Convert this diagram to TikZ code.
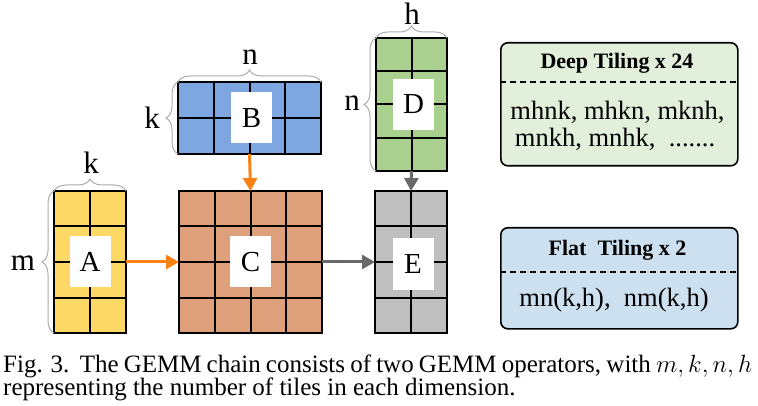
\documentclass[tikz,border=0pt]{standalone}
\usepackage{fontspec}
\setmainfont{Liberation Serif}
\usetikzlibrary{calc,arrows.meta,decorations.pathreplacing}
\definecolor{Ayel}{RGB}{255,217,102}
\definecolor{Bblue}{RGB}{126,166,224}
\definecolor{Cor}{RGB}{221,160,122}
\definecolor{Dgreen}{RGB}{169,208,142}
\definecolor{Egray}{RGB}{191,191,191}
\definecolor{deepfill}{RGB}{226,239,218}
\definecolor{flatfill}{RGB}{204,224,240}
\definecolor{arrowor}{RGB}{250,130,20}
\definecolor{arrowgr}{RGB}{105,105,105}
\tikzset{
  mat/.style={draw=black, line width=2.2pt, inner sep=0pt, outer sep=0pt, anchor=north west},
  gridl/.style={draw=black, line width=2pt},
  lbl/.style={fill=white, minimum width=41pt, minimum height=51pt, inner sep=0pt,
    font=\fontsize{29}{31}\selectfont},
  dimlbl/.style={inner sep=0pt, font=\fontsize{31}{33}\selectfont},
  brc/.style={decorate, decoration={brace, amplitude=12pt}, draw=gray!65, line width=1pt},
  oarr/.style={draw=arrowor, line width=3pt, -{Triangle[length=13pt,width=14pt]}},
  garr/.style={draw=arrowgr, line width=3pt, -{Triangle[length=13pt,width=14pt]}},
  tbox/.style={draw=black, line width=1.6pt, rounded corners=7pt, inner sep=0pt, anchor=north west},
  dline/.style={draw=black, line width=1.6pt, dash pattern=on 6pt off 4pt},
  ttl/.style={inner sep=0pt, font=\bfseries\fontsize{22}{24}\selectfont},
  body/.style={inner sep=0pt, font=\fontsize{26.5}{28}\selectfont},
  captxt/.style={inner sep=0pt, anchor=base west, font=\fontsize{25}{28}\selectfont}
}
\begin{document}
\begin{tikzpicture}[x=1pt,y=-1pt]
\useasboundingbox (0,0) rectangle (758,406);
% matrices
\node[mat, fill=Ayel, minimum width=72pt, minimum height=142pt] (A) at (54,191) {};
\node[mat, fill=Cor, minimum width=143pt, minimum height=142pt] (C) at (179,191) {};
\node[mat, fill=Egray, minimum width=72pt, minimum height=142pt] (E) at (375,191) {};
\node[mat, fill=Bblue, minimum width=143pt, minimum height=72pt] (B) at (178,82) {};
\node[mat, fill=Dgreen, minimum width=71pt, minimum height=133pt] (D) at (376,38) {};
% grid lines
\foreach \n/\c/\r in {A/2/4, C/4/4, E/2/4, B/4/2, D/2/4}{
  \pgfmathtruncatemacro{\cc}{\c-1}
  \pgfmathtruncatemacro{\rr}{\r-1}
  \foreach \i in {1,...,\cc}
    \draw[gridl] ($(\n.north west)!\i/\c!(\n.north east)$) -- ($(\n.south west)!\i/\c!(\n.south east)$);
  \foreach \j in {1,...,\rr}
    \draw[gridl] ($(\n.north west)!\j/\r!(\n.south west)$) -- ($(\n.north east)!\j/\r!(\n.south east)$);
}
% labels
\node[lbl] (Al) at (A.center) {A};
\node[lbl] (Bl) at ([xshift=2pt]B.center) {B};
\node[lbl] (Cl) at (C.center) {C};
\node[lbl] (Dl) at ([xshift=2pt]D.center) {D};
\node[lbl] (El) at ([xshift=2pt,yshift=-2pt]E.center) {E};
% braces
\draw[brc] (A.north west) -- (A.north east);
\draw[brc] (A.south west) -- (A.north west);
\draw[brc] (B.north west) -- (B.north east);
\draw[brc] (B.south west) -- (B.north west);
\draw[brc] (D.north west) -- (D.north east);
\draw[brc] (D.south west) -- (D.north west);
\node[dimlbl] (kA) at (91,163) {k};
\node[dimlbl] (mA) at (23,263) {m};
\node[dimlbl] (nB) at (250,57) {n};
\node[dimlbl] (kB) at (152,118) {k};
\node[dimlbl] (hD) at (412,14) {h};
\node[dimlbl] (nD) at (352,103) {n};
% arrows
\draw[oarr] (B.south) -- (C.north);
\draw[oarr] (A.east) -- (C.west);
\draw[garr] (C.east) -- (E.west);
\draw[garr] (D.south) -- (E.north);
% tiling boxes
\node[tbox, fill=deepfill, minimum width=237pt, minimum height=123pt] (deep) at (500,42) {};
\coordinate (dd) at (500,82);
\draw[dline] (dd) -- (dd -| deep.east);
\node[ttl] (deept) at (617,63) {Deep Tiling x 24};
\node[body] (deep1) at (617.5,112) {mhnk, mhkn, mknh,};
\node[body] (deep2) at (615,139) {mnkh, mnhk,\ \ .......};
\node[tbox, fill=flatfill, minimum width=237pt, minimum height=101pt] (flat) at (500,227) {};
\coordinate (fd) at (500,272);
\draw[dline] (fd) -- (fd -| flat.east);
\node[ttl] (flatt) at (617.5,250) {Flat\ \ Tiling x 2};
\node[body] (flat1) at (614,300) {mn(k,h),\ \ nm(k,h)};
% caption
\node[captxt] (cap1) at (3,372) {\makebox[749pt][s]{Fig. 3.\ \ The GEMM chain consists of two GEMM operators, with $m, k, n, h$}};
\node[captxt] (cap2) at (3,395) {representing the number of tiles in each dimension.};
\end{tikzpicture}
\end{document}
